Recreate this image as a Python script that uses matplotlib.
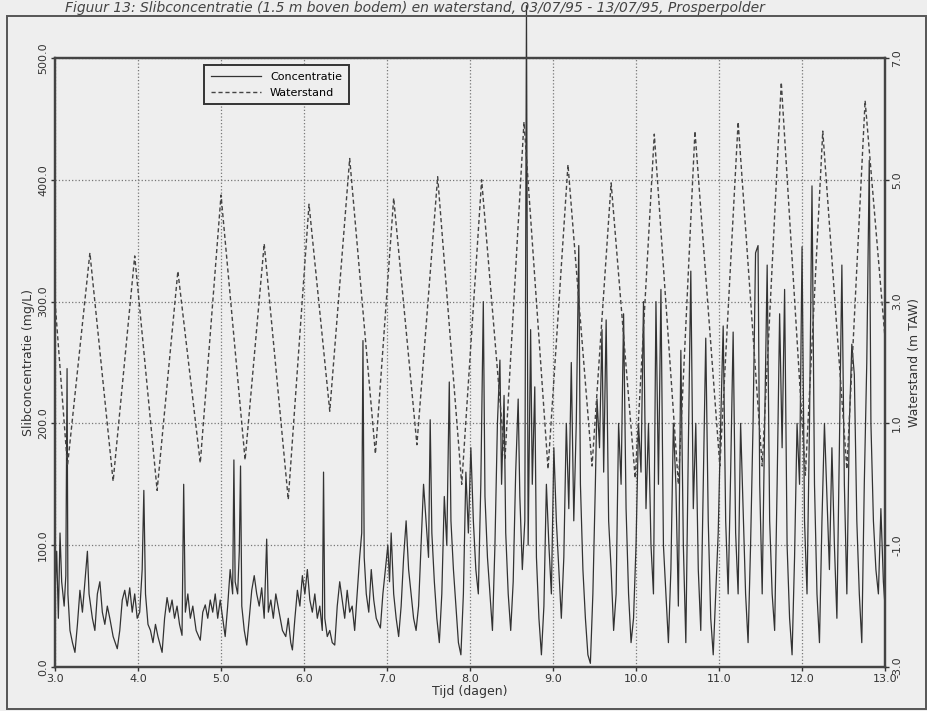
import matplotlib.pyplot as plt
from matplotlib.patches import Rectangle

tide_t = [3.00, 3.15, 3.42, 3.70, 3.96, 4.23, 4.48, 4.75, 5.00, 5.29, 5.52, 5.81,
          6.06, 6.31, 6.55, 6.86, 7.08, 7.36, 7.61, 7.90, 8.14, 8.42, 8.65, 8.94,
          9.18, 9.47, 9.70, 9.99, 10.22, 10.51, 10.71, 11.01, 11.23, 11.52, 11.75,
          12.04, 12.25, 12.54, 12.76, 13.00]
tide_h = [3.0, 0.3, 3.8, 0.05, 3.75, -0.1, 3.5, 0.35, 4.75, 0.4, 3.95, -0.25,
          4.6, 1.2, 5.35, 0.5, 4.7, 0.65, 5.05, 0.0, 5.0, 0.4, 5.95, 0.25,
          5.25, 0.3, 4.95, 0.1, 5.75, 0.0, 5.8, 0.3, 5.95, 0.3, 6.6,
          0.15, 5.8, 0.25, 6.3, 2.4]

# slibconcentratie (mg/L)
conc_t = [3.00, 3.02, 3.04, 3.06, 3.08, 3.11, 3.13, 3.145, 3.155, 3.18, 3.21, 3.24,
          3.27, 3.30, 3.33, 3.36, 3.39, 3.41, 3.45, 3.48, 3.51, 3.54, 3.57, 3.60,
          3.63, 3.66, 3.70, 3.75, 3.78, 3.81, 3.84, 3.87, 3.90, 3.93, 3.96, 3.99,
          4.02, 4.05, 4.07, 4.09, 4.12, 4.15, 4.18, 4.21, 4.24, 4.29, 4.32, 4.35,
          4.38, 4.41, 4.44, 4.47, 4.50, 4.53, 4.55, 4.57, 4.60, 4.63, 4.66, 4.70,
          4.75, 4.78, 4.81, 4.84, 4.87, 4.90, 4.93, 4.96, 4.99,
          5.02, 5.05, 5.08, 5.11, 5.14, 5.155, 5.17, 5.20, 5.22, 5.235, 5.25, 5.28,
          5.31, 5.34, 5.37, 5.40, 5.43, 5.46, 5.49, 5.52, 5.55, 5.57, 5.60, 5.63,
          5.66, 5.70, 5.74, 5.78, 5.81, 5.84, 5.86, 5.89, 5.92, 5.95, 5.98,
          6.01, 6.04, 6.07, 6.10, 6.13, 6.16, 6.19, 6.22, 6.235, 6.25, 6.28, 6.31,
          6.34, 6.37, 6.40, 6.43, 6.46, 6.49, 6.52, 6.55, 6.58, 6.61, 6.64, 6.67,
          6.695, 6.71, 6.725, 6.75, 6.78, 6.81, 6.84, 6.87, 6.90, 6.92, 6.95, 6.98,
          7.01, 7.03, 7.05, 7.08, 7.11, 7.14, 7.17, 7.20, 7.23, 7.26, 7.29, 7.32,
          7.35, 7.38, 7.41, 7.44, 7.47, 7.50, 7.52, 7.54, 7.57, 7.60, 7.63, 7.66,
          7.69, 7.72, 7.75, 7.77, 7.80, 7.83, 7.86, 7.89, 7.92, 7.95, 7.98,
          8.01, 8.04, 8.07, 8.10, 8.13, 8.16, 8.18, 8.21, 8.24, 8.27, 8.30, 8.33,
          8.36, 8.38, 8.41, 8.43, 8.46, 8.49, 8.52, 8.55, 8.58, 8.60, 8.63, 8.66,
          8.68, 8.70, 8.73, 8.75, 8.78, 8.80, 8.83, 8.86, 8.89, 8.92, 8.95, 8.98,
          9.01, 9.04, 9.07, 9.10, 9.13, 9.16, 9.19, 9.22, 9.25, 9.28, 9.31, 9.33,
          9.36, 9.39, 9.42, 9.45, 9.48, 9.51, 9.53, 9.56, 9.59, 9.61, 9.64, 9.67,
          9.70, 9.73, 9.76, 9.79, 9.82, 9.85, 9.88, 9.91, 9.94, 9.97,
          10.00, 10.03, 10.06, 10.09, 10.12, 10.15, 10.18, 10.21, 10.24, 10.27, 10.30,
          10.33, 10.36, 10.39, 10.42, 10.45, 10.48, 10.51, 10.54, 10.57, 10.60, 10.63,
          10.66, 10.69, 10.72, 10.75, 10.78, 10.81, 10.84, 10.87, 10.90, 10.93, 10.96,
          10.99, 11.02, 11.05, 11.08, 11.11, 11.14, 11.17, 11.20, 11.23, 11.26, 11.29,
          11.32, 11.35, 11.38, 11.41, 11.44, 11.47, 11.49, 11.52, 11.55, 11.58, 11.61,
          11.64, 11.67, 11.70, 11.73, 11.76, 11.79, 11.82, 11.85, 11.88, 11.91, 11.94,
          11.97, 12.00, 12.03, 12.06, 12.09, 12.12, 12.15, 12.18, 12.21, 12.24, 12.27,
          12.30, 12.33, 12.36, 12.39, 12.42, 12.45, 12.48, 12.51, 12.54, 12.57, 12.60,
          12.63, 12.66, 12.69, 12.72, 12.75, 12.78, 12.81, 12.83, 12.86, 12.89, 12.92,
          12.95, 12.98, 13.00]
conc_v = [60, 95, 40, 110, 70, 50, 75, 245, 60, 30, 20, 12,
          35, 63, 45, 70, 95, 60, 40, 30, 60, 70, 45, 35,
          50, 40, 25, 15, 30, 55, 63, 50, 65, 45, 60, 40,
          45, 80, 145, 60, 35, 30, 20, 35, 25, 12, 40, 57,
          45, 55, 40, 50, 35, 26, 150, 45, 60, 40, 50, 30,
          22, 45, 51, 40, 55, 45, 60, 40, 55,
          40, 25, 50, 80, 60, 170, 70, 60, 95, 165, 50, 30,
          18, 40, 63, 75, 60, 50, 65, 40, 105, 45, 55, 40,
          60, 45, 30, 25, 40, 20, 14, 40, 63, 50, 75,
          60, 80, 55, 45, 60, 40, 50, 30, 160, 40, 25, 30,
          20, 18, 50, 70, 55, 40, 63, 45, 50, 30, 60, 90,
          110, 268, 90, 60, 45, 80, 55, 40, 35, 32, 60, 80,
          100, 70, 110, 60, 40, 25, 50, 90, 120, 80, 60, 40,
          30, 50, 100, 150, 120, 90, 203, 110, 70, 40, 20, 60,
          140, 100, 234, 120, 80, 50, 20, 10, 60, 160, 110,
          180, 120, 80, 60, 150, 300, 140, 90, 60, 30, 100, 200,
          252, 150, 223, 110, 60, 30, 70, 160, 220, 140, 80, 120,
          543, 100, 277, 150, 230, 90, 40, 10, 50, 150, 100, 60,
          180, 120, 80, 40, 90, 200, 130, 250, 120, 200, 346, 150,
          80, 40, 10, 3, 60, 150, 220, 180, 277, 160, 285, 120,
          80, 30, 60, 200, 150, 290, 130, 60, 20, 40,
          100, 200, 160, 300, 130, 200, 100, 60, 300, 150, 310,
          100, 60, 20, 80, 200, 150, 50, 260, 100, 20, 180,
          325, 130, 200, 80, 30, 150, 270, 120, 40, 10, 60,
          110, 200, 280, 120, 60, 160, 275, 110, 60, 200, 130,
          60, 20, 100, 200, 340, 346, 150, 60, 200, 330, 120,
          60, 30, 150, 290, 180, 310, 100, 40, 10, 90, 200,
          150, 345, 120, 60, 200, 395, 150, 60, 20, 120, 200,
          140, 80, 180, 100, 40, 180, 330, 150, 60, 200, 265,
          240, 120, 60, 20, 150, 250, 416, 200, 120, 80, 60,
          130, 70, 50]

xticks = [3, 4, 5, 6, 7, 8, 9, 10, 11, 12, 13]
yticks_left = [0, 100, 200, 300, 400, 500]
yticks_right = [-3, -1, 1, 3, 5, 7]

bg = '#eeeeee'
fig = plt.figure(figsize=(9.28, 7.11), dpi=100, facecolor=bg)
ax = fig.add_axes([0.0593, 0.0619, 0.8944, 0.8565], facecolor=bg)
ax2 = ax.twinx()

ln1, = ax.plot(conc_t, conc_v, color='#333333', lw=0.9, clip_on=False, zorder=3)
ln2, = ax2.plot(tide_t, tide_h, color='#444444', lw=1.0, ls=(0, (3, 2)))

ax.set_xlim(3, 13)
ax.set_ylim(0, 500)
ax2.set_ylim(-3, 7)
ax.set_xticks(xticks)
ax.set_xticklabels([f'{v:.1f}' for v in xticks], fontsize=8)
ax.set_yticks(yticks_left)
ax.set_yticklabels([f'{v:.1f}' for v in yticks_left], fontsize=8, rotation=90, va='center')
ax2.set_yticks(yticks_right)
ax2.set_yticklabels([f'{v:.1f}' for v in yticks_right], fontsize=8, rotation=90, va='center')

ax.grid(True, ls=':', color='#777777', lw=0.9)
ax.tick_params(direction='out', length=3, width=1, colors='#333333', pad=2)
ax2.tick_params(direction='out', length=3, width=1, colors='#333333', pad=2)
for a in (ax, ax2):
    for s in a.spines.values():
        s.set_color('#444444')
        s.set_linewidth(1.6)

ax.set_xlabel('Tijd (dagen)', fontsize=9, color='#333333', labelpad=1)
ax.set_ylabel('Slibconcentratie (mg/L)', fontsize=9, color='#333333', labelpad=2)
ax2.set_ylabel('Waterstand (m TAW)', fontsize=9, color='#333333', labelpad=4)

leg = ax.legend([ln1, ln2], ['Concentratie', 'Waterstand'], loc='upper left',
                bbox_to_anchor=(0.18, 0.988), fontsize=8, frameon=True, fancybox=False,
                handlelength=4.5, borderpad=0.6, labelspacing=0.5, borderaxespad=0)
leg.get_frame().set_edgecolor('#333333')
leg.get_frame().set_linewidth(1.4)
leg.get_frame().set_facecolor(bg)
leg.get_frame().set_alpha(1)
leg.set_zorder(5)

# kader rond de figuur
fig.patches.append(Rectangle((7 / 928, 2 / 711), 919 / 928, 693 / 711, transform=fig.transFigure,
                             fill=False, edgecolor='#555555', lw=1.4))

fig.text(0.07, 1 - 12 / 711,
         'Figuur 13: Slibconcentratie (1.5 m boven bodem) en waterstand, 03/07/95 - 13/07/95, Prosperpolder',
         fontsize=10, style='italic', color='#444444', va='baseline')

fig.savefig('out.png', dpi=100, facecolor=bg)
